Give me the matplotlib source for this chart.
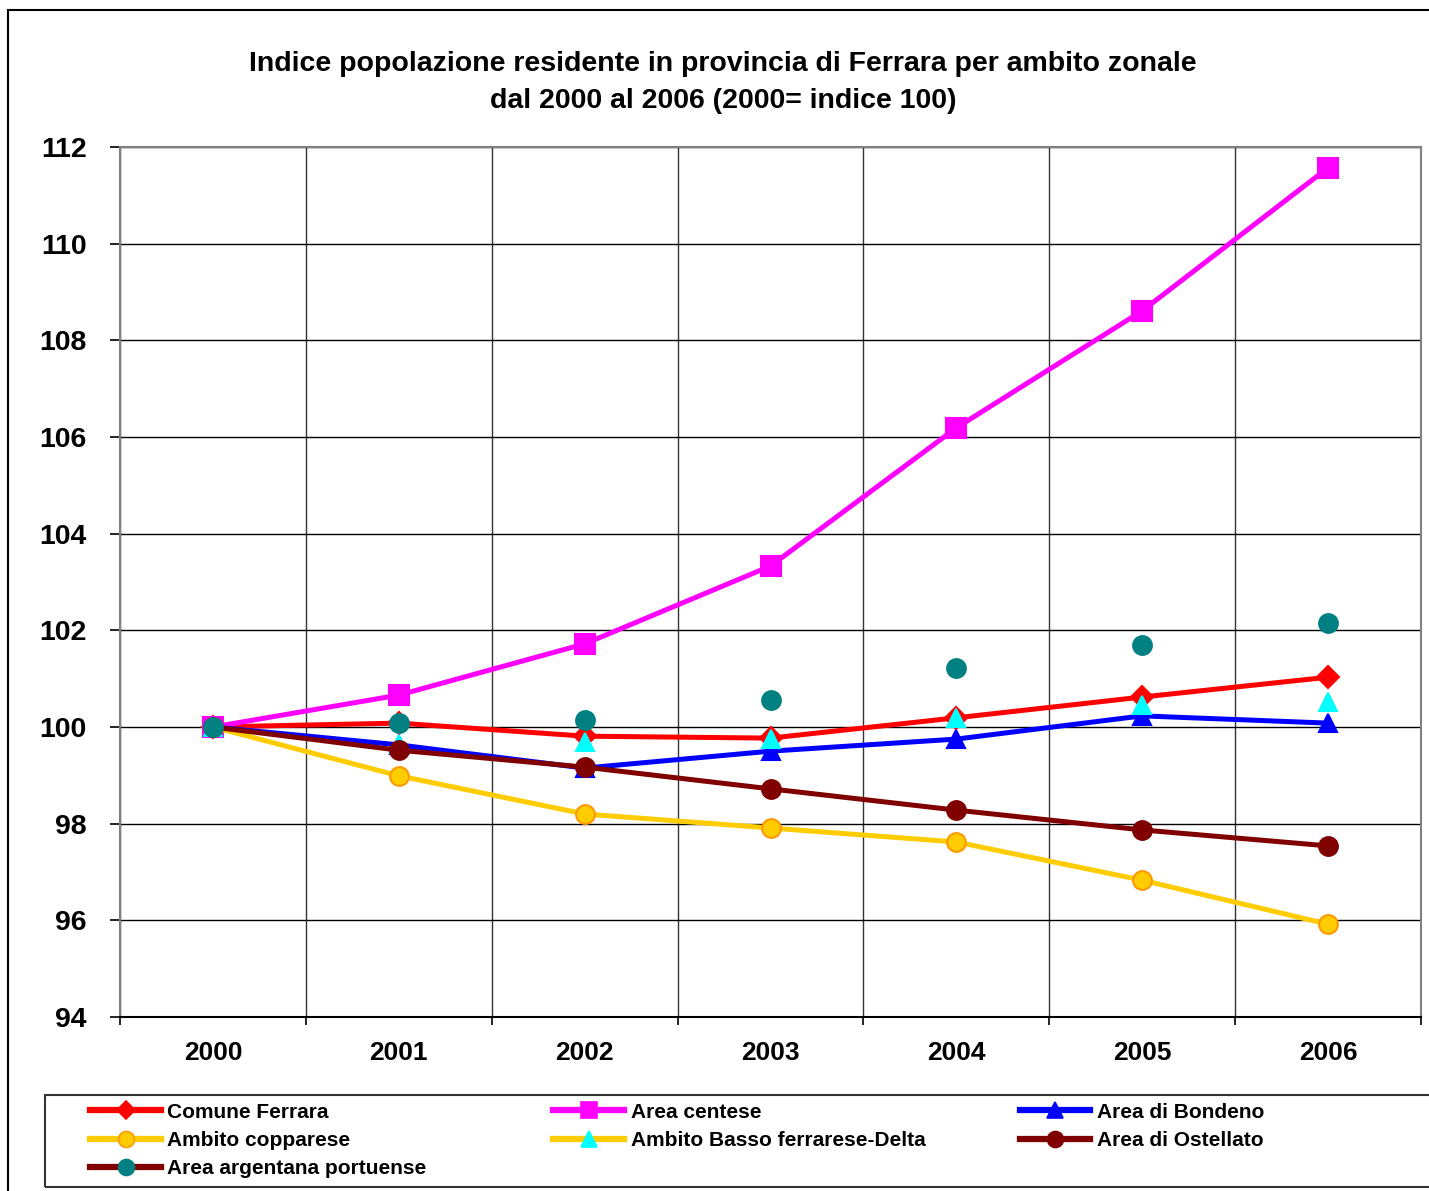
import numpy as np
import matplotlib
import matplotlib.pyplot as plt
from matplotlib.lines import Line2D
from matplotlib.patches import Rectangle

matplotlib.use('Agg')
plt.rcParams['font.family'] = ['Liberation Sans', 'DejaVu Sans']
plt.rcParams['font.weight'] = 'bold'

# dati
anni = ['2000', '2001', '2002', '2003', '2004', '2005', '2006']
comune_ferrara = [100, 100.08, 99.81, 99.77, 100.19, 100.62, 101.03]
area_centese = [100, 100.66, 101.72, 103.33, 106.19, 108.61, 111.57]
area_bondeno = [100, 99.63, 99.15, 99.50, 99.75, 100.23, 100.08]
ambito_copparese = [100, 98.99, 98.20, 97.91, 97.62, 96.83, 95.92]
basso_ferrarese = [100, 99.65, 99.69, 99.75, 100.19, 100.45, 100.52]
area_ostellato = [100, 99.52, 99.17, 98.72, 98.28, 97.87, 97.54]
area_argentana = [100, 100.08, 100.14, 100.56, 101.22, 101.70, 102.15]

nomi = ['Comune Ferrara', 'Area centese', 'Area di Bondeno', 'Ambito copparese',
        'Ambito Basso ferrarese-Delta', 'Area di Ostellato', 'Area argentana portuense']
serie = [comune_ferrara, area_centese, area_bondeno, ambito_copparese,
         basso_ferrarese, area_ostellato, area_argentana]

# stile: colore linea, marker, colore marker, bordo marker, dimensione, linea visibile
stili = [
    ('#FF0000', 'D', '#FF0000', '#FF0000', 11, True),
    ('#FF00FF', 's', '#FF00FF', '#FF00FF', 14, True),
    ('#0000FF', '^', '#0000FF', '#0000FF', 13, True),
    ('#FFCC00', 'o', '#FFCC00', '#FF9900', 13.5, True),
    ('#FFCC00', '^', '#00FFFF', '#00FFFF', 13, False),
    ('#800000', 'o', '#800000', '#800000', 13.5, True),
    ('#800000', 'o', '#008080', '#008080', 13.5, False),
]

fig = plt.figure(figsize=(14.29, 11.91), dpi=100)
ax = fig.add_axes([0.084, 0.1461, 0.9104, 0.7305])

x = np.arange(len(anni))
handles = []
for nome, valori, (lc, mk, mfc, mec, ms, linea) in zip(nomi, serie, stili):
    ax.plot(x, valori, color=lc, lw=3.6 if linea else 0, linestyle='-' if linea else 'none',
            marker=mk, markersize=ms, markerfacecolor=mfc, markeredgecolor=mec,
            markeredgewidth=1.5, zorder=3)
    handles.append(Line2D([0], [0], color=lc, lw=4.5, marker=mk, markersize=ms - 2,
                          markerfacecolor=mfc, markeredgecolor=mec, markeredgewidth=1.2))

ax.set_xlim(-0.5, 6.5)
ax.set_ylim(94, 112)
ax.set_yticks(np.arange(94, 113, 2))
ax.set_xticks(x)
ax.set_xticklabels(anni)
ax.set_xticks(np.arange(-0.5, 7, 1), minor=True)
ax.tick_params(axis='x', which='major', length=0, pad=17, labelsize=19)
ax.tick_params(axis='x', which='minor', length=6, width=1.2, direction='out')
ax.tick_params(axis='y', length=7, width=1.2, pad=17, labelsize=20.5)
ax.grid(axis='y', which='major', color='black', lw=1.0)
ax.grid(axis='x', which='minor', color='#333333', lw=1.0)
for s in ['left', 'top', 'right']:
    ax.spines[s].set_color('#808080')
    ax.spines[s].set_linewidth(1.5)
ax.spines['bottom'].set_color('black')
ax.spines['bottom'].set_linewidth(1.5)

fig.text(0.506, 0.9308, 'Indice popolazione residente in provincia di Ferrara per ambito zonale\n'
         'dal 2000 al 2006 (2000= indice 100)', ha='center', va='center',
         fontsize=20.5, fontweight='bold', linespacing=1.55)

# bordo esterno del grafico
fig.patches.append(Rectangle((0.0056, -0.05), 1.2, 1.0416, transform=fig.transFigure,
                             fill=False, edgecolor='black', lw=1.5))
# riquadro legenda
fig.patches.append(Rectangle((0.0315, 0.0034), 1.2, 0.0772, transform=fig.transFigure,
                             fill=False, edgecolor='#333333', lw=1.5))

# legenda su tre colonne
colonne = [[0, 3, 6], [1, 4], [2, 5]]
x_col = [0.0631, 0.3873, 0.7135]
for idx, xc in zip(colonne, x_col):
    leg = fig.legend([handles[i] for i in idx], [nomi[i] for i in idx],
                     loc='upper left', bbox_to_anchor=(xc, 0.0743), frameon=False,
                     fontsize=15, handlelength=3.4, handletextpad=0.3,
                     labelspacing=0.45, borderpad=0, borderaxespad=0)

fig.savefig('out.png', dpi=100)
